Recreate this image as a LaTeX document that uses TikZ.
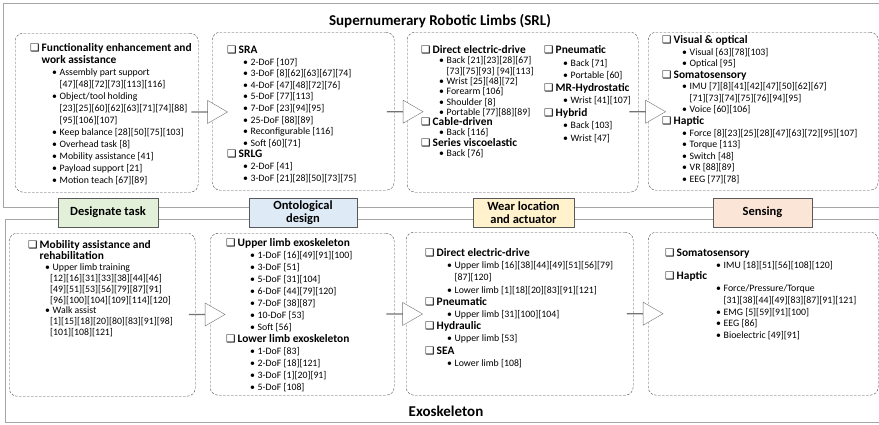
\documentclass[tikz,border=0pt]{standalone}
\usepackage{fontspec}
\setmainfont{Carlito}
\newfontfamily\symfont{DejaVu Sans}
\usetikzlibrary{shapes.arrows,calc}

\definecolor{framegray}{HTML}{A6A6A6}
\definecolor{tagborder}{HTML}{595959}
\definecolor{taggreen}{HTML}{E2F0D9}
\definecolor{tagblue}{HTML}{DEEBF7}
\definecolor{tagyellow}{HTML}{FFF2CC}
\definecolor{tagorange}{HTML}{FBE5D6}

% shadowed check box and bullet in front of the list lines
\newcommand\chk{\makebox[11.5pt][l]{\mdseries\symfont\fontsize{10.5}{10}\selectfont ❑}}
\newcommand\bul{\makebox[7.5pt][l]{\textbullet}}

\tikzset{
    ttl/.style={font=\bfseries\fontsize{15}{16}\selectfont},
    dbox/.style={draw=black!70, dash pattern=on 2.5pt off 1.5pt, rounded corners=8pt,
        anchor=north west, inner sep=0pt},
    tag/.style={draw=tagborder, minimum height=29pt, align=center, inner sep=0pt,
        font=\bfseries\fontsize{12.5}{13}\selectfont},
    blockarrow/.style={single arrow, draw=black!55, fill=white, inner sep=0pt,
        minimum height=36pt, minimum width=23pt,
        single arrow head extend=5.5pt, single arrow tip angle=60},
    lhfont/.style={anchor=base west, inner sep=0pt, font=\bfseries\fontsize{11.4}{12}\selectfont},
    lhead/.style={lhfont, execute at begin node=\chk},
    lhead2/.style={lhfont, xshift=11.5pt},
    lifont/.style={anchor=base west, inner sep=0pt, font=\fontsize{9.8}{11}\selectfont},
    lbul/.style={lifont, xshift=\bi, execute at begin node=\bul},
    lbul2/.style={lifont, xshift=\ti},
}

\begin{document}
\begin{tikzpicture}[x=1pt, y=-1pt]
    \useasboundingbox (0, 0) rectangle (879, 424);
    \draw[framegray, line width=1pt]
        (3, 3) rectangle (890, 207)
        (5, 219) rectangle (890, 422);
    \node[ttl] (srltitle) at (440, 21) {Supernumerary Robotic Limbs (SRL)};
    \node[ttl] (exotitle) at (446, 411) {Exoskeleton};

    % the eight dashed panels
    \node[dbox, minimum width=183pt, minimum height=159pt] (srltask) at (15, 33) {};
    \node[dbox, minimum width=182pt, minimum height=158pt] (srldesign) at (212, 32) {};
    \node[dbox, minimum width=231pt, minimum height=160pt] (srlwear) at (407, 32) {};
    \node[dbox, minimum width=230pt, minimum height=158pt] (srlsense) at (648, 32) {};
    \node[dbox, minimum width=186pt, minimum height=163pt] (exotask) at (9, 233) {};
    \node[dbox, minimum width=184pt, minimum height=162pt] (exodesign) at (210, 233) {};
    \node[dbox, minimum width=227pt, minimum height=163pt] (exowear) at (406, 232) {};
    \node[dbox, minimum width=230pt, minimum height=163pt] (exosense) at (648, 232) {};

    \foreach \a/\b [count=\i] in {srltask/srldesign, srldesign/srlwear, srlwear/srlsense,
        exotask/exodesign, exodesign/exowear, exowear/exosense}
        \node[blockarrow, xshift=4pt] (ar\i) at ($(\a.east)!.5!(\b.west)$) {};

    % stage tags on the band between the two frames
    \node[tag, fill=taggreen, minimum width=100pt] (tagtask) at (108, 212.5) {Designate task};
    \node[tag, fill=tagblue, minimum width=108pt] (tagdesign) at (303, 212.5) {Ontological\\design};
    \node[tag, fill=tagyellow, minimum width=101pt] (tagwear) at (523.5, 212.5) {Wear location\\and actuator};
    \node[tag, fill=tagorange, minimum width=99pt] (tagsense) at (762.5, 212.5) {Sensing};

    % SRL: task
    \def\cx{30}\def\cy{51.5}\def\dy{12}\def\bi{22pt}\def\ti{29.5pt}
    \foreach \n/\k/\t in {
        0/lhead/Functionality enhancement and,
        1/lhead2/work assistance,
        2/lbul/Assembly part support,
        3/lbul2/[47][48][72][73][113][116],
        4/lbul/{Object/tool holding},
        5/lbul2/[23][25][60][62][63][71][74][88],
        6/lbul2/[95][106][107],
        7/lbul/Keep balance [28][50][75][103],
        8/lbul/Overhead task [8],
        9/lbul/Mobility assistance [41],
        10/lbul/Payload support [21],
        11/lbul/Motion teach [67][89]}
        \node[\k] (srltask\n) at (\cx, \cy+\n*\dy) {\t};

    % SRL: design
    \def\cx{227}\def\cy{53.5}\def\dy{11.6}\def\bi{16pt}\def\ti{23.5pt}
    \foreach \n/\k/\t in {
        0/lhead/SRA,
        1/lbul/2-DoF [107],
        2/lbul/3-DoF [8][62][63][67][74],
        3/lbul/4-DoF [47][48][72][76],
        4/lbul/5-DoF [77][113],
        5/lbul/7-DoF [23][94][95],
        6/lbul/25-DoF [88][89],
        7/lbul/Reconfigurable [116],
        8/lbul/Soft [60][71],
        9/lhead/SRLG,
        10/lbul/2-DoF [41],
        11/lbul/3-DoF [21][28][50][73][75]}
        \node[\k] (srldesign\n) at (\cx, \cy+\n*\dy) {\t};

    % SRL: wear location and actuator, two columns
    \def\cx{421}\def\cy{53.5}\def\dy{10.3}\def\bi{18pt}\def\ti{25.5pt}
    \foreach \n/\k/\t in {
        0/lhead/Direct electric-drive,
        1/lbul/Back [21][23][28][67],
        2/lbul2/[73][75][93] [94][113],
        3/lbul/Wrist [25][48][72],
        4/lbul/Forearm [106],
        5/lbul/Shoulder [8],
        6/lbul/Portable [77][88][89],
        7/lhead/Cable-driven,
        8/lbul/Back [116],
        9/lhead/Series viscoelastic,
        10/lbul/Back [76]}
        \node[\k] (srlweara\n) at (\cx, \cy+\n*\dy) {\t};
    \def\cx{544}\def\dy{12.57}\def\bi{19pt}
    \foreach \n/\k/\t in {
        0/lhead/Pneumatic,
        1/lbul/Back [71],
        2/lbul/Portable [60],
        3/lhead/MR-Hydrostatic,
        4/lbul/Wrist [41][107],
        5/lhead/Hybrid,
        6/lbul/Back [103],
        7/lbul/Wrist [47]}
        \node[\k] (srlwearb\n) at (\cx, \cy+\n*\dy) {\t};

    % SRL: sensing
    \def\cx{662}\def\cy{43.5}\def\dy{11.58}\def\bi{20pt}\def\ti{27.5pt}
    \foreach \n/\k/\t in {
        0/lhead/Visual \& optical,
        1/lbul/Visual [63][78][103],
        2/lbul/Optical [95],
        3/lhead/Somatosensory,
        4/lbul/IMU [7][8][41][42][47][50][62][67],
        5/lbul2/[71][73][74][75][76][94][95],
        6/lbul/Voice [60][106],
        7/lhead/Haptic,
        8/lbul/Force [8][23][25][28][47][63][72][95][107],
        9/lbul/Torque [113],
        10/lbul/Switch [48],
        11/lbul/VR [88][89],
        12/lbul/EEG [77][78]}
        \node[\k] (srlsense\n) at (\cx, \cy+\n*\dy) {\t};

    % Exoskeleton: task
    \def\cx{28}\def\cy{248.5}\def\dy{10.9}\def\bi{17pt}\def\ti{22pt}
    \foreach \n/\k/\t in {
        0/lhead/Mobility assistance and,
        1/lhead2/rehabilitation,
        2/lbul/Upper limb training,
        3/lbul2/[12][16][31][33][38][44][46],
        4/lbul2/[49][51][53][56][79][87][91],
        5/lbul2/[96][100][104][109][114][120],
        6/lbul/Walk assist,
        7/lbul2/[1][15][18][20][80][83][91][98],
        8/lbul2/[101][108][121]}
        \node[\k] (exotask\n) at (\cx, \cy+\n*\dy) {\t};

    % Exoskeleton: design
    \def\cx{226}\def\cy{246.5}\def\dy{12}\def\bi{24pt}\def\ti{31.5pt}
    \foreach \n/\k/\t in {
        0/lhead/Upper limb exoskeleton,
        1/lbul/1-DoF [16][49][91][100],
        2/lbul/3-DoF [51],
        3/lbul/5-DoF [31][104],
        4/lbul/6-DoF [44][79][120],
        5/lbul/7-DoF [38][87],
        6/lbul/10-DoF [53],
        7/lbul/Soft [56],
        8/lhead/Lower limb exoskeleton,
        9/lbul/1-DoF [83],
        10/lbul/2-DoF [18][121],
        11/lbul/3-DoF [1][20][91],
        12/lbul/5-DoF [108]}
        \node[\k] (exodesign\n) at (\cx, \cy+\n*\dy) {\t};

    % Exoskeleton: wear location and actuator
    \def\cx{425}\def\cy{256.5}\def\dy{12.2}\def\bi{22pt}\def\ti{29.5pt}
    \foreach \n/\k/\t in {
        0/lhead/Direct electric-drive,
        1/lbul/Upper limb [16][38][44][49][51][56][79],
        2/lbul2/[87][120],
        3/lbul/Lower limb [1][18][20][83][91][121],
        4/lhead/Pneumatic,
        5/lbul/Upper limb [31][100][104],
        6/lhead/Hydraulic,
        7/lbul/Upper limb [53],
        8/lhead/SEA,
        9/lbul/Lower limb [108]}
        \node[\k] (exowear\n) at (\cx, \cy+\n*\dy) {\t};

    % Exoskeleton: sensing
    \def\cx{665}\def\cy{256.5}\def\dy{11.7}\def\bi{51pt}\def\ti{58.5pt}
    \foreach \n/\k/\t in {
        0/lhead/Somatosensory,
        1/lbul/IMU [18][51][56][108][120],
        2/lhead/Haptic,
        3/lbul/{Force/Pressure/Torque},
        4/lbul2/[31][38][44][49][83][87][91][121],
        5/lbul/EMG [5][59][91][100],
        6/lbul/EEG [86],
        7/lbul/Bioelectric [49][91]}
        \node[\k] (exosense\n) at (\cx, \cy+\n*\dy) {\t};
\end{tikzpicture}
\end{document}
